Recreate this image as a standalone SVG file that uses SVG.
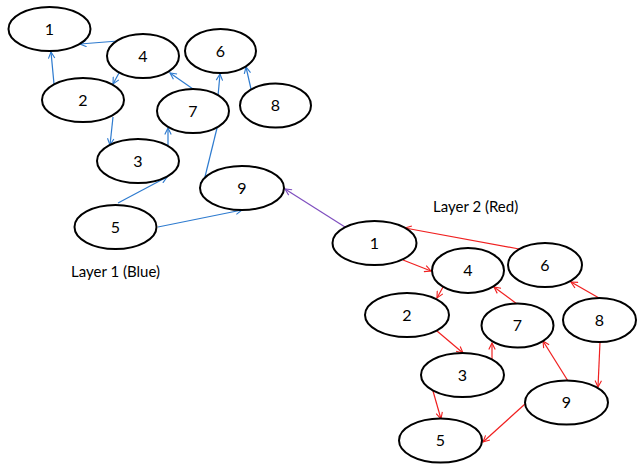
<svg xmlns="http://www.w3.org/2000/svg" width="643" height="472" viewBox="0 0 643 472">
<style>
.n ellipse{fill:#fff;stroke:#000;stroke-width:2}
.n text{font-family:Lato,"Open Sans",sans-serif;font-size:16px;text-anchor:middle;fill:#000}
.lbl{font-family:Lato,"Open Sans",sans-serif;font-size:15px;fill:#000}
.b{stroke:#2E7BCF;stroke-width:1.2;fill:none;marker-end:url(#ab)}
.r{stroke:#F02020;stroke-width:1.2;fill:none;marker-end:url(#ar)}
.p{stroke:#7F4FBF;stroke-width:1.2;fill:none;marker-end:url(#ap)}
</style>
<defs>
<marker id="ab" viewBox="0 0 10 10" refX="9" refY="5" markerWidth="8" markerHeight="8" markerUnits="userSpaceOnUse" orient="auto"><polyline points="1,1 9,5 1,9" fill="none" stroke="#2E7BCF" stroke-width="1.4"/></marker>
<marker id="ar" viewBox="0 0 10 10" refX="9" refY="5" markerWidth="8" markerHeight="8" markerUnits="userSpaceOnUse" orient="auto"><polyline points="1,1 9,5 1,9" fill="none" stroke="#F02020" stroke-width="1.4"/></marker>
<marker id="ap" viewBox="0 0 10 10" refX="9" refY="5" markerWidth="8" markerHeight="8" markerUnits="userSpaceOnUse" orient="auto"><polyline points="1,1 9,5 1,9" fill="none" stroke="#7F4FBF" stroke-width="1.4"/></marker>
</defs>
<rect width="643" height="472" fill="#fff"/>
<g id="connectors">
<line class="b" x1="118" y1="41" x2="80" y2="44"/>
<line class="b" x1="54" y1="84" x2="51" y2="52"/>
<line class="b" x1="119" y1="73" x2="113" y2="84"/>
<line class="b" x1="113" y1="117" x2="110" y2="145"/>
<line class="b" x1="168" y1="145" x2="168" y2="128"/>
<line class="b" x1="193" y1="89" x2="170" y2="73"/>
<line class="b" x1="218" y1="96" x2="220" y2="74"/>
<line class="b" x1="251" y1="89" x2="246" y2="67"/>
<line class="b" x1="218" y1="124" x2="202" y2="189"/>
<line class="b" x1="118" y1="203" x2="167" y2="177"/>
<line class="b" x1="158" y1="227" x2="242" y2="210"/>
<line class="p" x1="345" y1="227" x2="285" y2="189"/>
<line class="r" x1="519" y1="249" x2="405" y2="228"/>
<line class="r" x1="403" y1="260" x2="431" y2="271"/>
<line class="r" x1="443" y1="287" x2="437" y2="298"/>
<line class="r" x1="437" y1="331" x2="463" y2="353"/>
<line class="r" x1="492" y1="360" x2="492" y2="343"/>
<line class="r" x1="517" y1="304" x2="494" y2="287"/>
<line class="r" x1="599" y1="298" x2="571" y2="282"/>
<line class="r" x1="600" y1="342" x2="598" y2="387"/>
<line class="r" x1="568" y1="381" x2="543" y2="341"/>
<line class="r" x1="433" y1="391" x2="441" y2="419"/>
<line class="r" x1="525" y1="404" x2="483" y2="442"/>
</g>
<g id="L1-1" class="n"><ellipse cx="49.5" cy="29" rx="41" ry="22"/><text x="49.5" y="34.5">1</text></g>
<g id="L1-4" class="n"><ellipse cx="143" cy="56" rx="36" ry="22"/><text x="143" y="61.5">4</text></g>
<g id="L1-6" class="n"><ellipse cx="220.5" cy="51" rx="35.5" ry="22"/><text x="220.5" y="56.5">6</text></g>
<g id="L1-2" class="n"><ellipse cx="83" cy="100" rx="41" ry="22"/><text x="83" y="105.5">2</text></g>
<g id="L1-7" class="n"><ellipse cx="193" cy="111" rx="36" ry="22"/><text x="193" y="116.5">7</text></g>
<g id="L1-8" class="n"><ellipse cx="275.5" cy="105.5" rx="35.5" ry="22"/><text x="275.5" y="111">8</text></g>
<g id="L1-3" class="n"><ellipse cx="138" cy="161" rx="41" ry="22"/><text x="138" y="166.5">3</text></g>
<g id="L1-9" class="n"><ellipse cx="242" cy="188" rx="42" ry="22"/><text x="242" y="193.5">9</text></g>
<g id="L1-5" class="n"><ellipse cx="115.5" cy="227" rx="41" ry="22"/><text x="115.5" y="232.5">5</text></g>
<g id="L2-1" class="n"><ellipse cx="374.5" cy="243" rx="42" ry="22"/><text x="374.5" y="248.5">1</text></g>
<g id="L2-4" class="n"><ellipse cx="468" cy="270.5" rx="36" ry="22.5"/><text x="468" y="276">4</text></g>
<g id="L2-6" class="n"><ellipse cx="545" cy="265" rx="37" ry="22"/><text x="545" y="270.5">6</text></g>
<g id="L2-2" class="n"><ellipse cx="407" cy="315" rx="42" ry="22"/><text x="407" y="320.5">2</text></g>
<g id="L2-7" class="n"><ellipse cx="517.5" cy="325.5" rx="36" ry="22"/><text x="517.5" y="331">7</text></g>
<g id="L2-8" class="n"><ellipse cx="599.5" cy="320" rx="36.5" ry="22"/><text x="599.5" y="325.5">8</text></g>
<g id="L2-3" class="n"><ellipse cx="462.5" cy="375" rx="41.5" ry="22"/><text x="462.5" y="380.5">3</text></g>
<g id="L2-9" class="n"><ellipse cx="566.5" cy="402.5" rx="41.5" ry="22"/><text x="566.5" y="408">9</text></g>
<g id="L2-5" class="n"><ellipse cx="440.5" cy="440.5" rx="41.5" ry="22"/><text x="440.5" y="446">5</text></g>
<text class="lbl" x="71" y="277">Layer 1 (Blue)</text>
<text class="lbl" x="433" y="212">Layer 2 (Red)</text>
</svg>
